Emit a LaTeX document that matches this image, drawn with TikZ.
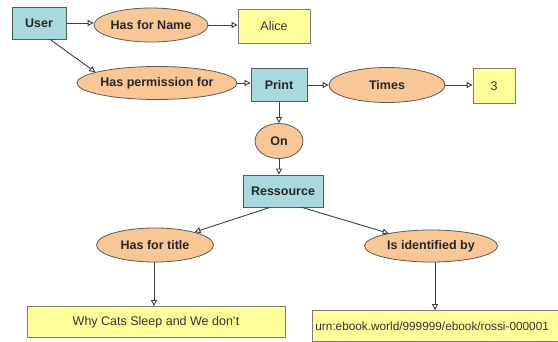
\documentclass[tikz,border=0pt]{standalone}
\usepackage{fontspec}
\setmainfont{Liberation Sans}
\usetikzlibrary{arrows.meta,shapes.geometric}
\definecolor{boxblue}{HTML}{AAD9DD}
\definecolor{ellorange}{HTML}{F9C796}
\definecolor{valyellow}{HTML}{FFFF99}
\definecolor{edgegray}{HTML}{5A5A5A}
\definecolor{linegray}{HTML}{404040}
\tikzset{
  concept/.style={draw=edgegray, line width=0.8pt, fill=boxblue, inner sep=0pt,
    font=\fontsize{12.5}{14}\selectfont\bfseries, text=black!85},
  relation/.style={draw=edgegray, line width=0.8pt, fill=ellorange, ellipse, inner sep=0pt,
    font=\fontsize{12.5}{14}\selectfont\bfseries, text=black!85},
  valuebox/.style={draw=edgegray!80, line width=0.8pt, fill=valyellow, inner sep=0pt,
    font=\fontsize{12.5}{14}\selectfont, text=black!80},
  link/.style={draw=linegray, line width=0.9pt,
    -{Triangle[open, length=6pt, width=6pt]}},
}
\begin{document}
\begin{tikzpicture}[x=1pt,y=-1pt]
\useasboundingbox (0,0) rectangle (558,342);
\clip (0,0) rectangle (558,342);
\fill[white] (0,0) rectangle (558,342);
% nodes
\node[concept, minimum width=54pt, minimum height=32pt] (user) at (39,23) {User};
\node[relation, minimum width=114pt, minimum height=34pt] (hfn) at (151,25) {Has for Name};
\node[valuebox, minimum width=72pt, minimum height=34pt] (alice) at (274,26) {Alice};
\node[relation, minimum width=157pt, minimum height=33pt] (perm) at (157,83) {Has permission for};
\node[concept, minimum width=56pt, minimum height=33pt] (print) at (279,85) {Print};
\node[relation, minimum width=116pt, minimum height=35pt] (times) at (387,85) {Times};
\node[valuebox, minimum width=42pt, minimum height=35pt] (three) at (494,86) {3};
\node[relation, minimum width=48pt, minimum height=35pt] (on) at (279,141) {On};
\node[concept, minimum width=80pt, minimum height=32pt] (res) at (283,191) {Ressource};
\node[relation, minimum width=117pt, minimum height=34pt] (title) at (155,245) {Has for title};
\node[relation, minimum width=133pt, minimum height=32pt] (ident) at (431,246) {Is identified by};
\node[valuebox, minimum width=258pt, minimum height=31pt] (why) at (156,322) {Why Cats Sleep and We don't};
\node[valuebox, minimum height=31pt, anchor=west, inner xsep=3pt, text width=280pt, align=left,
  font=\fontsize{11.8}{14}\selectfont] (urn) at (312,326) {urn:ebook.world/999999/ebook/rossi-000001};
% connectors
\draw[link] (user.east) -- (user.east -| hfn.west);
\draw[link] (hfn.east) -- (hfn.east -| alice.west);
\draw[link] ([xshift=11pt]user.south) -- (perm.170);
\draw[link] (perm.east) -- (perm.east -| print.west);
\draw[link] (print.east) -- (print.east -| times.west);
\draw[link] (times.east) -- (times.east -| three.west);
\draw[link] (print.south) -- (on.north);
\draw[link] (on.south) -- (on.south |- res.north);
\draw[link] ([xshift=-13pt]res.south) -- (title);
\draw[link] ([xshift=19pt]res.south) -- (ident);
\draw[link] ([xshift=-1pt]title.south) -- ([xshift=-1pt]title.south |- why.north);
\draw[link] ([xshift=4pt]ident.south) -- ([xshift=4pt]ident.south |- urn.north);
\end{tikzpicture}
\end{document}
